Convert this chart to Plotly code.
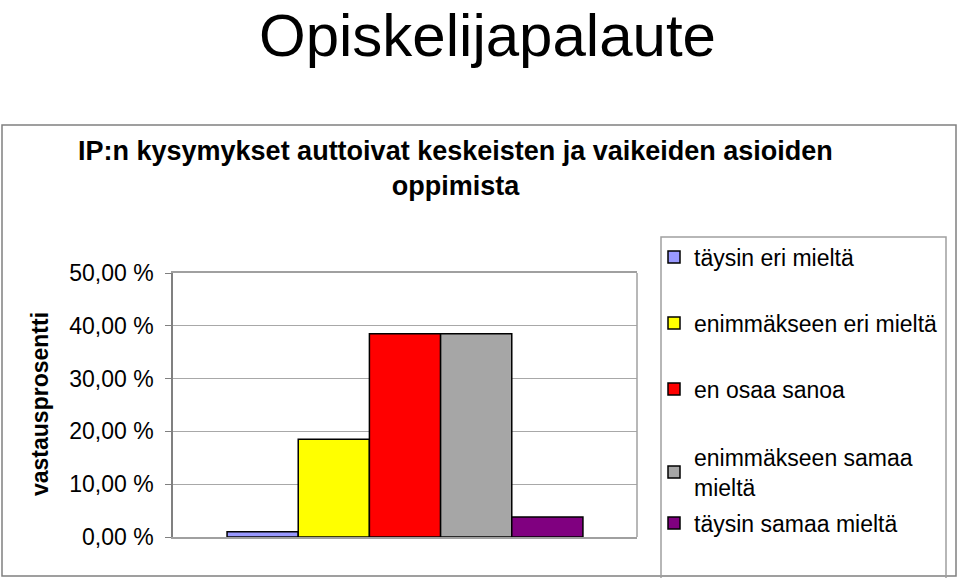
import plotly.graph_objects as go

# survey answers, one bar per answer option
categories = ["täysin eri mieltä", "enimmäkseen eri mieltä", "en osaa sanoa",
              "enimmäkseen samaa<br>mieltä", "täysin samaa mieltä"]
values = [1.0, 18.5, 38.5, 38.5, 3.8]
colors = ["#9999FF", "#FFFF00", "#FF0000", "#A6A6A6", "#800080"]
tick_vals = [0, 10, 20, 30, 40, 50]
tick_text = ["0,00 %", "10,00 %", "20,00 %", "30,00 %", "40,00 %", "50,00 %"]

W, H = 959, 578
FONT = "Liberation Sans, Arial, sans-serif"

def px(x):
    return x / W

def py(y):
    return 1 - y / H

# legend slot centers (px from top)
legend_y = [257, 323, 389, 472, 523]

fig = go.Figure()
for i, (name, val, col) in enumerate(zip(categories, values, colors)):
    lg = "legend" if i == 0 else f"legend{i + 1}"
    fig.add_trace(go.Bar(
        x=["IP"], y=[val], name=name,
        marker=dict(color=col, line=dict(color="black", width=1.5)),
        legend=lg,
    ))

legends = {}
for i, yc in enumerate(legend_y):
    key = "legend" if i == 0 else f"legend{i + 1}"
    legends[key] = dict(
        x=px(654), y=py(yc), xanchor="left", yanchor="middle",
        bgcolor="rgba(0,0,0,0)", borderwidth=0,
        font=dict(family=FONT, size=23, color="black"),
    )

fig.update_layout(
    width=W, height=H,
    margin=dict(l=0, r=0, t=0, b=0, autoexpand=False),
    paper_bgcolor="white", plot_bgcolor="white",
    barmode="group", bargap=0.233, bargroupgap=0,
    showlegend=True,
    **legends,
    xaxis=dict(domain=[px(173), px(637)], showticklabels=False, ticks="",
               showline=True, linecolor="#A0A0A0", linewidth=1.5, mirror=True,
               showgrid=False, fixedrange=True),
    yaxis=dict(domain=[py(537), py(273)], range=[0, 50], tickvals=tick_vals,
               ticktext=tick_text, ticks="outside", ticklen=6, tickcolor="#808080",
               showline=True, linecolor="#808080", linewidth=1.5, mirror=False,
               gridcolor="#A8A8A8", gridwidth=1, zeroline=False, automargin=False,
               tickfont=dict(family=FONT, size=23, color="black"),
               ticklabelstandoff=7),
    shapes=[
        # chart frame
        dict(type="rect", xref="paper", yref="paper", x0=px(2), x1=px(956),
             y0=py(576), y1=py(125), line=dict(color="#808080", width=1.5)),
        # right border of plot area
        dict(type="line", xref="paper", yref="paper", x0=px(637), x1=px(637),
             y0=py(537), y1=py(273), line=dict(color="#A0A0A0", width=1.5)),
        # legend frame
        dict(type="rect", xref="paper", yref="paper", x0=px(661), x1=px(946),
             y0=py(580), y1=py(237), line=dict(color="#A0A0A0", width=1.5)),
    ],
    annotations=[
        dict(text="Opiskelijapalaute", x=px(487), y=py(0), xref="paper", yref="paper",
             showarrow=False, xanchor="center", yanchor="top",
             font=dict(family=FONT, size=60, color="black")),
        dict(text="<b>IP:n kysymykset auttoivat keskeisten ja vaikeiden asioiden<br>oppimista</b>",
             x=px(455), y=py(169), xref="paper", yref="paper", showarrow=False,
             xanchor="center", yanchor="middle",
             font=dict(family=FONT, size=27, color="black")),
        dict(text="<b>vastausprosentti</b>", x=px(40), y=py(404), xref="paper", yref="paper",
             showarrow=False, textangle=-90, xanchor="center", yanchor="middle",
             font=dict(family=FONT, size=23, color="black")),
    ],
)

# the page body has a default 8px margin; drop it so the figure fills the window
fig.write_html("out.html", config={"displayModeBar": False},
               post_script="document.body.style.margin = '0';")
